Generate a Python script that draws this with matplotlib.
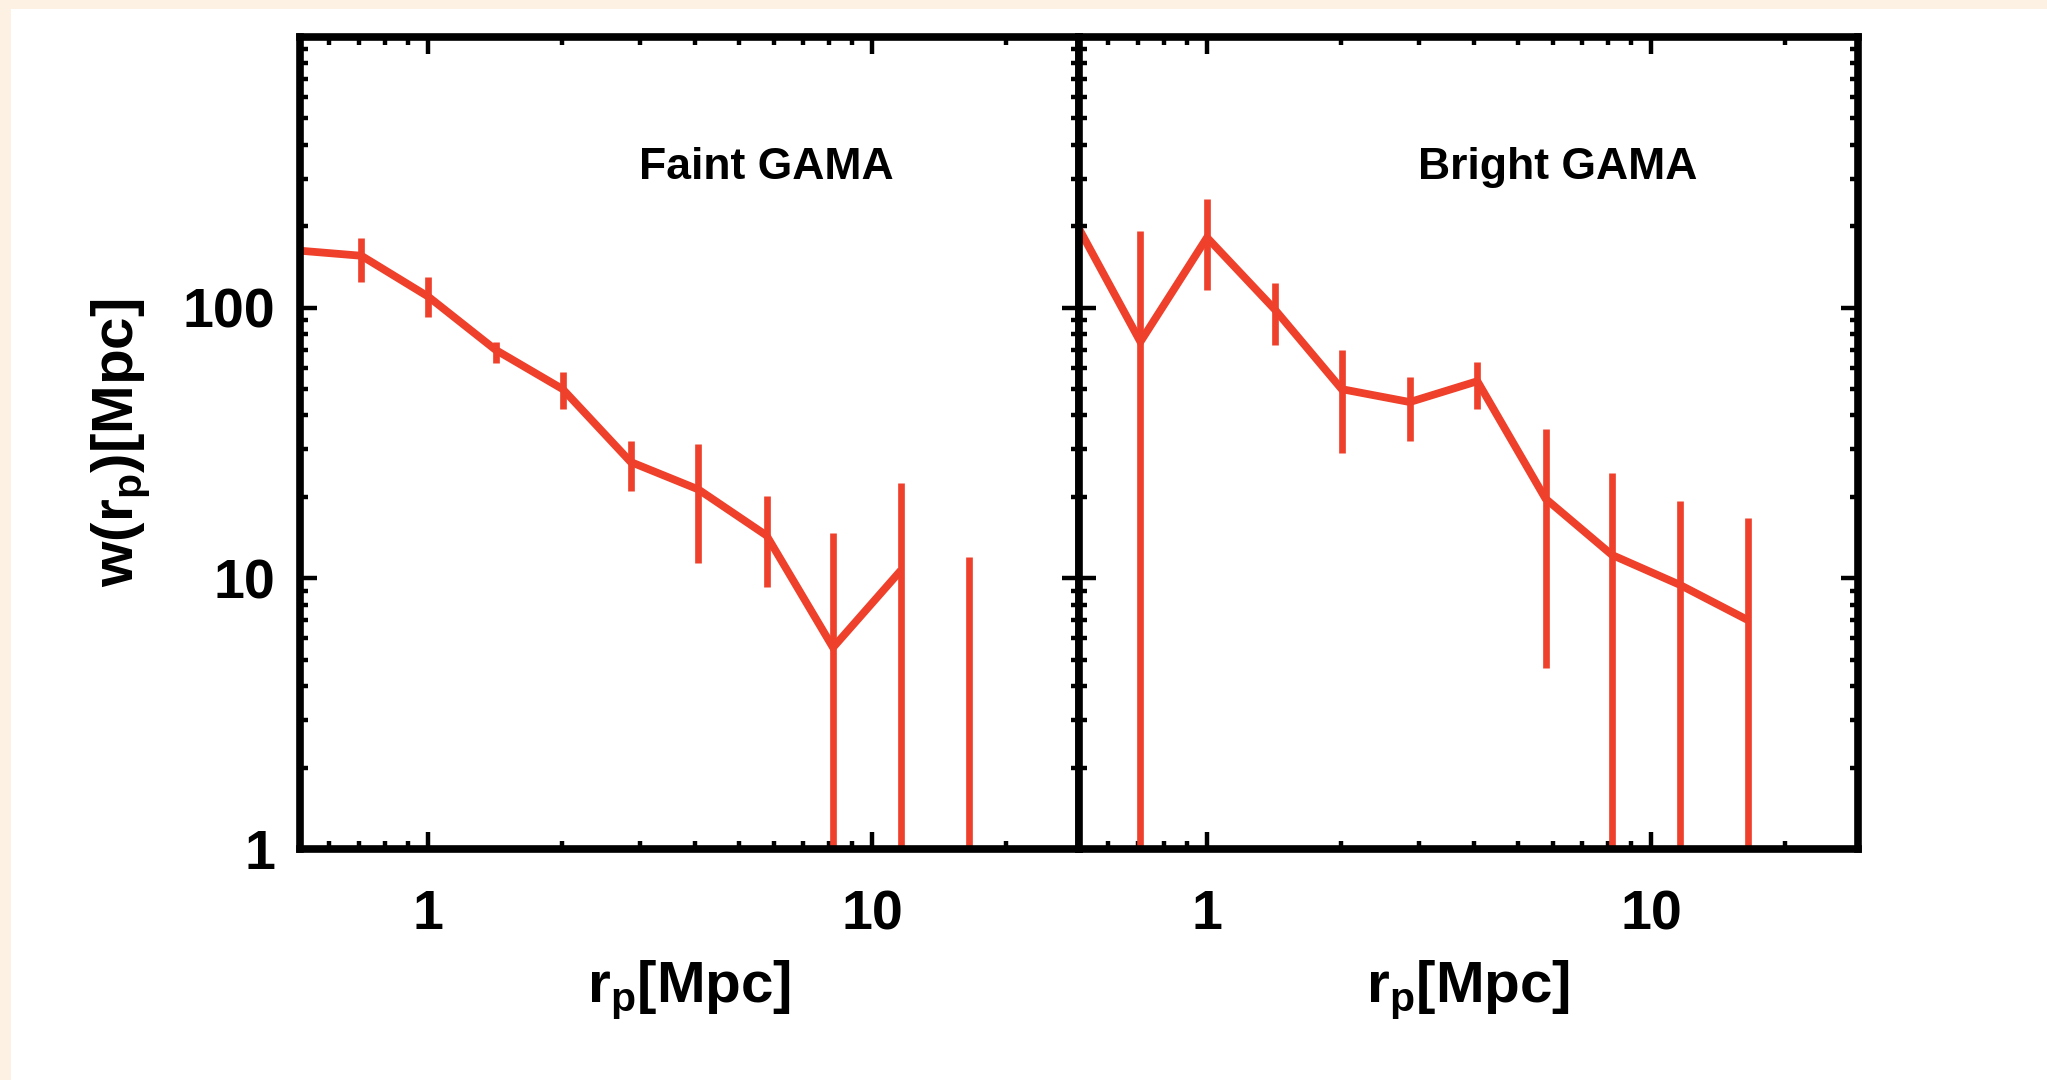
import numpy as np
import matplotlib
matplotlib.use("Agg")
import matplotlib.pyplot as plt
from matplotlib.patches import Rectangle
from matplotlib.ticker import LogLocator, NullFormatter

# projected separation bins [Mpc]
r_p = [0.5, 0.708, 1.0, 1.42, 2.01, 2.86, 4.06, 5.78, 8.16, 11.6, 16.5]

# faint sample: w(r_p) and lower / upper ends of the error bars
faint_w = [163.0, 155.5, 110.0, 69.8, 50.0, 26.9, 21.3, 14.4, 5.55, 10.7, np.nan]
faint_lo = [141.0, 124.5, 92.7, 62.6, 42.4, 21.1, 11.4, 9.25, 0.3, 0.3, 0.3]
faint_hi = [189.0, 181.6, 130.0, 74.6, 57.8, 32.1, 31.4, 20.1, 14.7, 22.5, 12.0]

# bright sample
bright_w = [214.0, 74.8, 181.6, 98.6, 50.0, 44.8, 53.5, 19.7, 12.2, 9.46, 7.01]
bright_lo = [185.0, 0.3, 116.0, 73.0, 29.0, 32.1, 42.4, 4.65, 0.3, 0.3, 0.3]
bright_hi = [245.0, 192.0, 251.0, 123.0, 69.8, 55.3, 63.2, 35.5, 24.6, 19.3, 16.7]

panel_titles = ["Faint GAMA", "Bright GAMA"]
x_ticks = [1, 10]
x_ticklabels = ["1", "10"]
y_ticks = [1, 10, 100]
y_ticklabels = ["1", "10", "100"]

RED = "#EE402A"
CREAM = "#FCF1E2"

plt.rcParams["font.family"] = ["Liberation Sans", "DejaVu Sans"]
plt.rcParams["font.weight"] = "bold"
plt.rcParams["mathtext.fontset"] = "custom"
plt.rcParams["mathtext.rm"] = "Liberation Sans:bold"
plt.rcParams["mathtext.bf"] = "Liberation Sans:bold"
plt.rcParams["mathtext.it"] = "Liberation Sans:bold"

W, H = 2047, 1080
fig = plt.figure(figsize=(W / 100, H / 100), dpi=100)
fig.patch.set_facecolor("white")
# thin cream margin along the top and left edges
fig.patches.append(Rectangle((0, 0), 11 / W, 1, transform=fig.transFigure,
                             facecolor=CREAM, edgecolor="none", zorder=-10))
fig.patches.append(Rectangle((0, 1 - 9 / H), 1, 9 / H, transform=fig.transFigure,
                             facecolor=CREAM, edgecolor="none", zorder=-10))

bottom = (H - 849) / H
height = 812 / H
axL = fig.add_axes([300 / W, bottom, 779 / W, height])
axR = fig.add_axes([1079 / W, bottom, 779 / W, height])

series = [(faint_w, faint_lo, faint_hi), (bright_w, bright_lo, bright_hi)]

for ax, (w, lo, hi), title in zip([axL, axR], series, panel_titles):
    ax.set_xscale("log")
    ax.set_yscale("log")
    ax.plot(r_p, w, color=RED, lw=5.6, solid_joinstyle="miter",
            solid_capstyle="butt", zorder=2)
    ax.vlines(r_p, lo, hi, color=RED, lw=4.8, capstyle="butt", zorder=2)
    ax.set_xlim(0.515, 29.2)
    ax.set_ylim(1, 1000)

    ax.set_xticks(x_ticks)
    ax.set_xticklabels(x_ticklabels)
    ax.set_yticks(y_ticks)
    ax.set_yticklabels(y_ticklabels)
    ax.xaxis.set_minor_locator(LogLocator(base=10, subs=np.arange(2, 10)))
    ax.yaxis.set_minor_locator(LogLocator(base=10, subs=np.arange(2, 10)))
    ax.xaxis.set_minor_formatter(NullFormatter())
    ax.yaxis.set_minor_formatter(NullFormatter())

    ax.tick_params(which="both", direction="in", top=True, right=True,
                   width=3.2, color="black")
    ax.tick_params(which="major", length=12)
    ax.tick_params(which="minor", length=6)
    ax.tick_params(axis="x", which="major", pad=29, labelsize=40)
    ax.tick_params(axis="y", which="major", pad=18, labelsize=40)
    for sp in ax.spines.values():
        sp.set_linewidth(5.5)

    ax.set_xlabel(r"r$_\mathrm{p}$[Mpc]", fontsize=42, fontweight="bold",
                  labelpad=12)
    ax.text(0.435, 0.825, title, transform=ax.transAxes, fontsize=32,
            fontweight="bold", ha="left", va="baseline")

axR.tick_params(labelleft=False)
axL.set_ylabel(r"w(r$_\mathrm{p}$)[Mpc]", fontsize=42, fontweight="bold",
               labelpad=22)

fig.savefig("out.png", dpi=100, facecolor=fig.get_facecolor())
